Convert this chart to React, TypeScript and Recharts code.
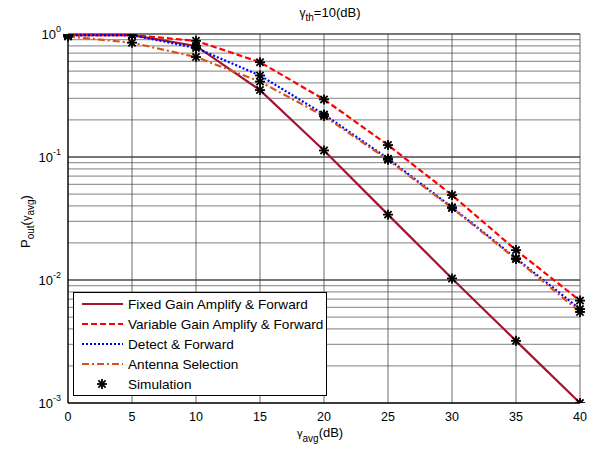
import React from "react";
import {
  ComposedChart,
  Line,
  Scatter,
  XAxis,
  YAxis,
  CartesianGrid,
  ReferenceLine,
} from "recharts";

// gamma_avg (dB)
const snr = [0, 5, 10, 15, 20, 25, 30, 35, 40];
const fixedGain = [0.98, 0.98, 0.8, 0.35, 0.113, 0.034, 0.0103, 0.0032, 0.001];
const variableGain = [0.98, 0.98, 0.88, 0.59, 0.294, 0.125, 0.049, 0.0175, 0.0068];
const detectForward = [0.98, 0.98, 0.77, 0.46, 0.222, 0.097, 0.039, 0.015, 0.0058];
const antennaSel = [0.955, 0.85, 0.65, 0.41, 0.215, 0.095, 0.0385, 0.0148, 0.0055];

const xTicks = [0, 5, 10, 15, 20, 25, 30, 35, 40];
const decades = [0.001, 0.01, 0.1, 1];
const yTicks = [
  0.001, 0.002, 0.003, 0.004, 0.005, 0.006, 0.007, 0.008, 0.009,
  0.01, 0.02, 0.03, 0.04, 0.05, 0.06, 0.07, 0.08, 0.09,
  0.1, 0.2, 0.3, 0.4, 0.5, 0.6, 0.7, 0.8, 0.9, 1,
];

const data = snr.map((x, i) => ({
  x,
  fg: fixedGain[i],
  vg: variableGain[i],
  df: detectForward[i],
  as: antennaSel[i],
}));

const FONT = "'Liberation Sans', Arial, sans-serif";

const COLORS = {
  fg: "#A2142F",
  vg: "#FF0000",
  df: "#0000FF",
  as: "#D95319",
};

function Star(props: any) {
  const { cx, cy } = props;
  if (cx == null || cy == null) return null;
  const r = 5;
  const d = r * 0.72;
  return (
    <g stroke="#000" strokeWidth={1.8}>
      <line x1={cx - r} y1={cy} x2={cx + r} y2={cy} />
      <line x1={cx} y1={cy - r} x2={cx} y2={cy + r} />
      <line x1={cx - d} y1={cy - d} x2={cx + d} y2={cy + d} />
      <line x1={cx - d} y1={cy + d} x2={cx + d} y2={cy - d} />
    </g>
  );
}

function LogTick(props: any) {
  const { x, y, payload } = props;
  const v = payload.value;
  const exp = Math.round(Math.log10(v));
  if (Math.abs(v - Math.pow(10, exp)) > 1e-9) return null;
  return (
    <text x={x - 5} y={y + 5} textAnchor="end" fontFamily={FONT} fill="#000">
      <tspan fontSize={13}>10</tspan>
      <tspan fontSize={9} dy={-7}>
        {exp}
      </tspan>
    </text>
  );
}

function XTick(props: any) {
  const { x, y, payload } = props;
  return (
    <text x={x} y={y + 16} textAnchor="middle" fontFamily={FONT} fontSize={12.5} fill="#000">
      {payload.value}
    </text>
  );
}

const legendItems = [
  { label: "Fixed Gain Amplify & Forward", color: COLORS.fg, dash: undefined },
  { label: "Variable Gain Amplify & Forward", color: COLORS.vg, dash: "6 3" },
  { label: "Detect & Forward", color: COLORS.df, dash: "2 2" },
  { label: "Antenna Selection", color: COLORS.as, dash: "7 3 2 3" },
];

function LegendBox() {
  return (
    <svg width={255} height={105} style={{ display: "block" }}>
      <rect x={0.5} y={0.5} width={253} height={103} fill="#fff" stroke="#000" strokeWidth={1} />
      {legendItems.map((it, i) => (
        <g key={it.label}>
          <line
            x1={9}
            x2={50}
            y1={12 + i * 20}
            y2={12 + i * 20}
            stroke={it.color}
            strokeWidth={2}
            strokeDasharray={it.dash}
          />
          <text x={55} y={17 + i * 20} fontFamily={FONT} fontSize={13.6} fill="#000">
            {it.label}
          </text>
        </g>
      ))}
      <Star cx={29} cy={92} />
      <text x={55} y={97} fontFamily={FONT} fontSize={13.6} fill="#000">
        Simulation
      </text>
    </svg>
  );
}

export default function App() {
  return (
    <div style={{ position: "absolute", left: 0, top: 0, width: 600, height: 450, background: "#fff" }}>
      <ComposedChart
        width={600}
        height={450}
        data={data}
        margin={{ top: 34, right: 20, bottom: 0, left: 0 }}
      >
        <CartesianGrid stroke="#9a9a9a" strokeWidth={1.2} vertical={false} />
        <CartesianGrid stroke="#444" strokeWidth={0.8} horizontal={false} />
        {decades.map((d) => (
          <ReferenceLine key={d} y={d} stroke="#222" strokeWidth={1} />
        ))}
        <XAxis
          dataKey="x"
          type="number"
          domain={[0, 40]}
          ticks={xTicks}
          height={47}
          axisLine={{ stroke: "#000", strokeWidth: 1.2 }}
          tickLine={false}
          tickSize={0}
          tick={<XTick />}
          label={{
            position: "insideBottom",
            content: () => (
              <text x={297} y={437} fontFamily={FONT} fill="#000">
                <tspan fontSize={11}>γ</tspan>
                <tspan fontSize={10} dy={5}>avg</tspan>
                <tspan fontSize={13} dy={-5}>(dB)</tspan>
              </text>
            ),
          }}
        />
        <XAxis
          xAxisId="top"
          orientation="top"
          dataKey="x"
          type="number"
          domain={[0, 40]}
          ticks={xTicks}
          height={0}
          axisLine={{ stroke: "#000", strokeWidth: 1.2 }}
          tickLine={false}
          tick={false}
        />
        <YAxis
          scale="log"
          domain={[0.001, 1]}
          ticks={yTicks}
          allowDataOverflow
          width={68}
          axisLine={{ stroke: "#000", strokeWidth: 1.2 }}
          tickLine={false}
          tickSize={0}
          tick={<LogTick />}
          interval={0}
          label={{
            position: "insideLeft",
            content: () => (
              <text
                x={30}
                y={248}
                transform="rotate(-90 30 248)"
                fontFamily={FONT}
                fill="#000"
              >
                <tspan fontSize={13}>P</tspan>
                <tspan fontSize={10} dy={4}>out</tspan>
                <tspan fontSize={13} dy={-4}>(</tspan>
                <tspan fontSize={11}>γ</tspan>
                <tspan fontSize={10} dy={4}>avg</tspan>
                <tspan fontSize={13} dy={-4}>)</tspan>
              </text>
            ),
          }}
        />
        <YAxis
          yAxisId="right"
          orientation="right"
          scale="log"
          domain={[0.001, 1]}
          ticks={yTicks}
          allowDataOverflow
          width={0}
          axisLine={{ stroke: "#000", strokeWidth: 1.2 }}
          tickLine={false}
          tick={false}
        />
        <Line dataKey="fg" stroke={COLORS.fg} strokeWidth={2.2} dot={false} isAnimationActive={false} />
        <Line dataKey="vg" stroke={COLORS.vg} strokeWidth={2.2} strokeDasharray="6 3" dot={false} isAnimationActive={false} />
        <Line dataKey="df" stroke={COLORS.df} strokeWidth={2.2} strokeDasharray="2 2" dot={false} isAnimationActive={false} />
        <Line dataKey="as" stroke={COLORS.as} strokeWidth={2.2} strokeDasharray="7 3 2 3" dot={false} isAnimationActive={false} />
        <Scatter dataKey="fg" shape={<Star />} isAnimationActive={false} />
        <Scatter dataKey="vg" shape={<Star />} isAnimationActive={false} />
        <Scatter dataKey="df" shape={<Star />} isAnimationActive={false} />
        <Scatter dataKey="as" shape={<Star />} isAnimationActive={false} />
      </ComposedChart>
      <div style={{ position: "absolute", left: 73, top: 292 }}>
        <LegendBox />
      </div>
      <div style={{ position: "absolute", left: 0, top: 0 }}>
        <svg width={600} height={24} style={{ display: "block" }}>
          <text x={330} y={17} textAnchor="middle" fontFamily={FONT} fill="#000">
            <tspan fontSize={12}>γ</tspan>
            <tspan fontSize={10} dy={4}>th</tspan>
            <tspan fontSize={13} dy={-4}>=10(dB)</tspan>
          </text>
        </svg>
      </div>
    </div>
  );
}
